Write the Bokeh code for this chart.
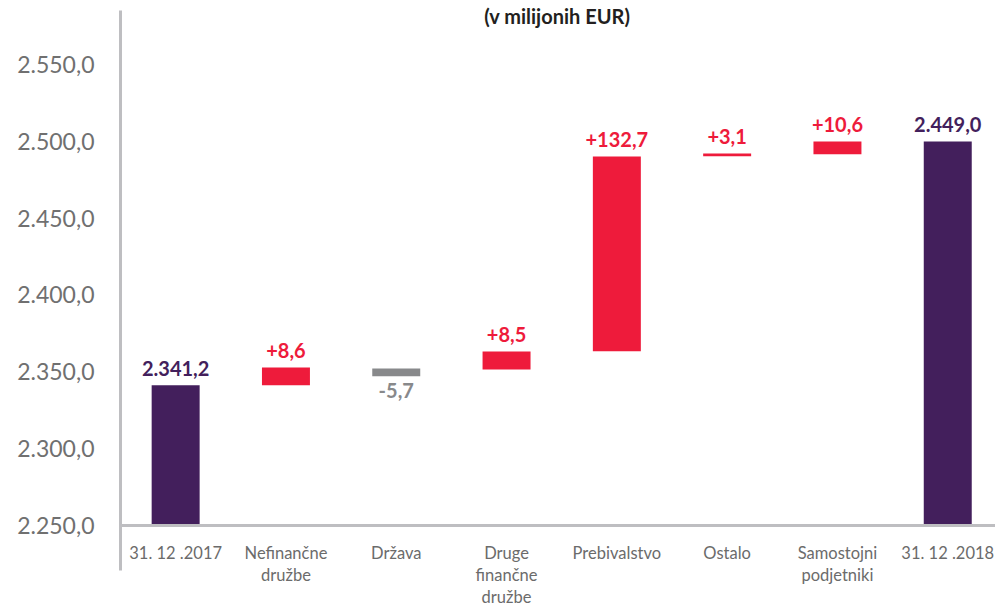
from bokeh.plotting import figure
from bokeh.models import Range1d, Span, FixedTicker, ColumnDataSource, LinearAxis
from bokeh.core.properties import value
from bokeh.embed import file_html
from bokeh.resources import INLINE

# ---- data ----
categories = ["31. 12 .2017", "Nefinančne\ndružbe", "Država", "Druge\nfinančne\ndružbe",
              "Prebivalstvo", "Ostalo", "Samostojni\npodjetniki", "31. 12 .2018"]
kinds = ["total", "inc", "dec", "inc", "inc", "inc", "inc", "total"]
bar_bottom = [2250.0, 2341.3, 2347.1, 2351.5, 2363.4, 2490.3, 2491.6, 2250.0]
bar_top = [2341.2, 2352.8, 2352.2, 2363.2, 2490.1, 2492.0, 2499.8, 2499.8]
value_labels = ["2.341,2", "+8,6", "-5,7", "+8,5", "+132,7", "+3,1", "+10,6", "2.449,0"]
y_ticks = [2250, 2300, 2350, 2400, 2450, 2500, 2550]
title_text = "(v milijonih EUR)"

PURPLE = "#431F5C"
RED = "#EE1B3B"
GRAY = "#88898B"
AXIS = "#BEBEC1"
colors = {"total": PURPLE, "inc": RED, "dec": GRAY}


def fmt(v):
    s = f"{v:,.1f}"
    return s.replace(",", "X").replace(".", ",").replace("X", ".")


xs = list(range(len(categories)))
bar_colors = [colors[k] for k in kinds]

W, H = 995, 607
left_border = 120
px_per_cat = 110.3
px_per_unit = 1.537
y_base = 2250.0
base_px = 525.0  # pixel of 2250 from top
frame_w = W - left_border
y_start = y_base - (H - base_px) / px_per_unit
y_end = y_base + base_px / px_per_unit

p = figure(width=W, height=H, output_backend="svg", toolbar_location=None,
           x_range=Range1d(-0.5, -0.5 + frame_w / px_per_cat),
           y_range=Range1d(y_start, y_end),
           x_axis_location=None, y_axis_location=None,
           min_border_left=left_border, min_border_right=0,
           min_border_top=0, min_border_bottom=0)
p.outline_line_color = None
p.xgrid.visible = False
p.ygrid.visible = False
p.background_fill_color = "white"
p.border_fill_color = "white"

yaxis = LinearAxis(ticker=FixedTicker(ticks=y_ticks),
                   major_label_overrides={t: fmt(t) for t in y_ticks},
                   bounds=(y_base - 45 / px_per_unit, y_end - 10 / px_per_unit))
yaxis.axis_line_color = AXIS
yaxis.axis_line_width = 3
yaxis.major_tick_line_color = None
yaxis.minor_tick_line_color = None
yaxis.major_tick_out = 0
yaxis.major_label_standoff = 26
yaxis.major_label_text_font = "Lato"
yaxis.major_label_text_font_size = "23px"
yaxis.major_label_text_color = "#707070"
p.add_layout(yaxis, "left")

p.add_layout(Span(location=y_base, dimension="width", line_color=AXIS, line_width=3))

src = ColumnDataSource(dict(x=xs, bottom=bar_bottom, top=bar_top, color=bar_colors,
                            lab=value_labels, kind=kinds, cat=categories,
                            base=[y_base] * len(xs)))
p.vbar(x="x", bottom="bottom", top="top", width=0.435, fill_color="color",
       line_color=None, source=src)

above_idx = [i for i, k in enumerate(kinds) if k != "dec"]
below_idx = [i for i, k in enumerate(kinds) if k == "dec"]

p.text(x=[xs[i] for i in above_idx], y=[bar_top[i] for i in above_idx],
       text=[value_labels[i] for i in above_idx],
       text_color=[bar_colors[i] for i in above_idx],
       text_font=value("Lato"), text_font_style="bold", text_font_size="20px",
       text_align="center", text_baseline="middle", y_offset=-17)
p.text(x=[xs[i] for i in below_idx], y=[bar_bottom[i] for i in below_idx],
       text=[value_labels[i] for i in below_idx],
       text_color=[bar_colors[i] for i in below_idx],
       text_font=value("Lato"), text_font_style="bold", text_font_size="20px",
       text_align="center", text_baseline="middle", y_offset=14)

p.text(x="x", y="base", text="cat", source=src, text_color="#6B6B6B",
       text_font=value("Lato"), text_font_size="16.5px", text_align="center",
       text_baseline="top", text_line_height=1.12, y_offset=17)

p.text(x=[3.46], y=[y_end], text=[title_text],
       text_color="#231F20", text_font=value("Lato"), text_font_style="bold",
       text_font_size="20px", text_align="center", text_baseline="top", y_offset=3)

open("out.html", "w").write(file_html(p, INLINE))
